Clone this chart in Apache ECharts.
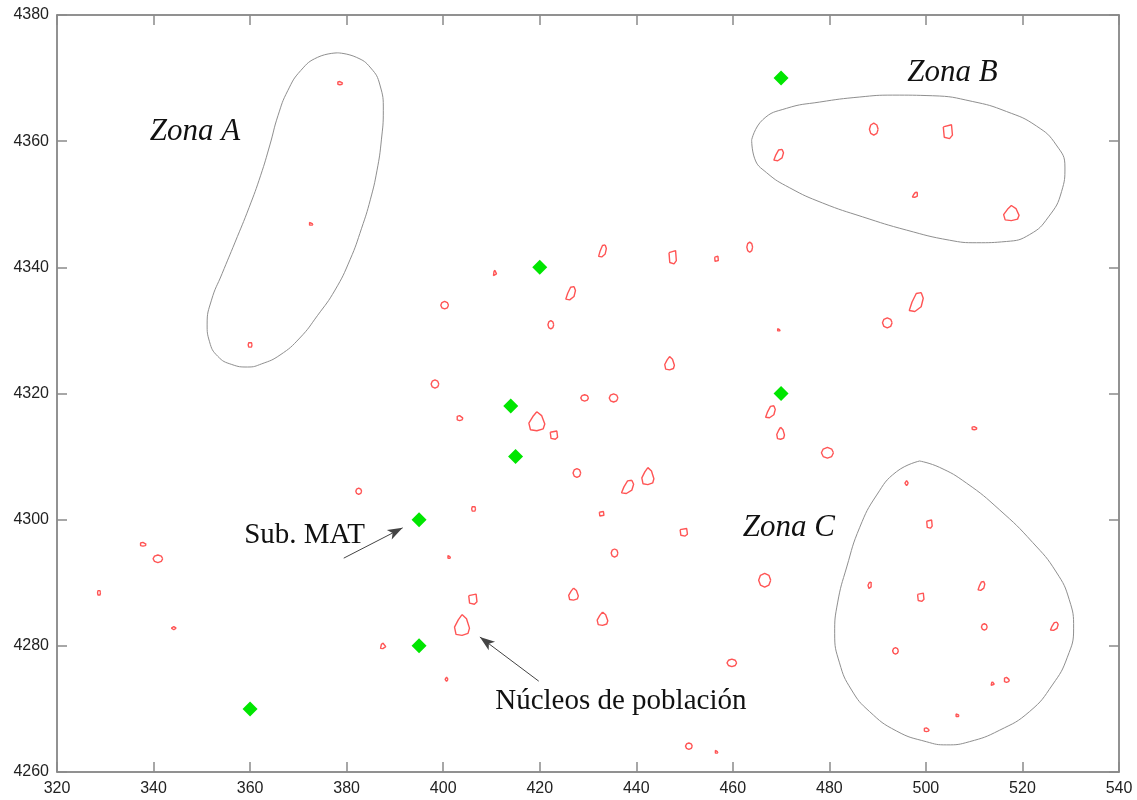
<!DOCTYPE html>
<html>
<head>
<meta charset="utf-8">
<title>Zonas y núcleos de población</title>
<script src="https://cdn.jsdelivr.net/npm/echarts@6/dist/echarts.min.js"></script>
<style>
    html, body { margin: 0; padding: 0; background: #fff; }
    #chart { width: 1137px; height: 800px; }
</style>
</head>
<body>
<div id="chart"></div>
<script>
//subestaciones MAT
var subMat = [[470, 4370], [420, 4340], [414, 4318], [415, 4310], [470, 4320], [395, 4300], [395, 4280], [360, 4270]];

//contornos de las zonas
var zonaA = [[378.2, 4374], [382, 4373.3], [385, 4371.6], [386.9, 4368.9], [387.6, 4364.9], [387.2, 4360.2], [386.3, 4355.4],
    [384.9, 4350.7], [383.1, 4346.2], [380.7, 4341.2], [377.6, 4336.4], [374, 4332.4], [370.3, 4328.8], [366.2, 4326.1],
    [362.4, 4324.7], [359.5, 4324.2], [356.2, 4324.6], [353.3, 4325.9], [351.6, 4328.2], [351.1, 4331], [352, 4334.8],
    [354.2, 4339], [356.9, 4344], [359.8, 4349.5], [362.2, 4354.6], [364.1, 4359.4], [365.8, 4364.1], [367.8, 4368],
    [370.5, 4371.2], [374, 4373.3], [378.2, 4374]];
var zonaB = [[463.9, 4360.2], [466.2, 4363.4], [471.1, 4365.2], [478, 4366.2], [486.3, 4367], [493.1, 4367.3], [501.4, 4367.2],
    [509.6, 4366.3], [516.7, 4364.7], [522.9, 4362.4], [527, 4359.4], [528.8, 4355.9], [528.1, 4352], [525.4, 4348],
    [521.5, 4345.2], [516.7, 4344.1], [510.5, 4343.9], [504.9, 4344.3], [496, 4345.9], [486.9, 4348], [478.6, 4350.2],
    [471.8, 4352.6], [467, 4355], [464.5, 4357.3], [463.9, 4360.2]];
var zonaC = [[498.7, 4309.3], [502.8, 4308.3], [508.4, 4305.8], [515.2, 4301.6], [522.1, 4296.4], [527, 4291.7], [529.7, 4287.3],
    [530.6, 4282.8], [529.3, 4278.2], [526.2, 4273.8], [521.5, 4269.6], [515.2, 4266.6], [509, 4264.8], [504.3, 4264.3],
    [500.1, 4264.8], [493.9, 4266.5], [488.3, 4269.6], [484.6, 4273], [482.1, 4277.3], [481.1, 4282], [481.7, 4286.8],
    [483.6, 4292.5], [486.3, 4298.8], [489.8, 4303.9], [493.9, 4307.6], [498.7, 4309.3]];

//formas de los nucleos, en unidades del radio
var REDONDA = [[1, 0], [.7, .7], [0, 1], [-.7, .7], [-1, 0], [-.7, -.7], [0, -1], [.7, -.7]];
var PICO = [[0, 1], [.6, .6], [1, -.3], [.8, -.8], [0, -1], [-.8, -.9], [-1, -.2], [-.5, .5]];
var INCLINADA = [[.7, 1], [1, .4], [.7, -.5], [-.2, -1], [-1, -.9], [-.6, 0], [0, .9]];
var CAJA = [[-.9, .7], [.8, 1], [1, -.5], [.4, -1], [-.7, -.8]];

//nucleos de poblacion: x, y, radio x, radio y, forma
var nucleos = [
    [378.6, 4369.2, .6, .25, REDONDA], [372.6, 4346.9, .4, .3, REDONDA], [360, 4327.7, .4, .5, REDONDA],
    [489.2, 4361.9, .9, .95, REDONDA], [504.5, 4361.5, 1, 1.1, CAJA], [469.5, 4357.8, 1, .9, INCLINADA],
    [497.8, 4351.5, .6, .4, INCLINADA], [517.7, 4348.6, 1.6, 1.2, PICO], [463.5, 4343.2, .6, .8, REDONDA],
    [498, 4334.5, 1.45, 1.5, INCLINADA], [492, 4331.2, 1, .8, REDONDA], [469.5, 4330.1, .3, .25, REDONDA],
    [433, 4342.6, .8, .95, INCLINADA], [447.5, 4341.6, .8, 1.05, CAJA], [456.6, 4341.3, .4, .45, CAJA],
    [410.7, 4339.1, .35, .45, PICO], [400.3, 4334, .8, .6, REDONDA], [426.4, 4335.9, 1, 1.05, INCLINADA],
    [422.3, 4330.9, .6, .65, REDONDA], [446.9, 4324.8, 1, 1.05, PICO], [398.3, 4321.5, .8, .65, REDONDA],
    [429.3, 4319.3, .8, .5, REDONDA], [435.3, 4319.3, .9, .65, REDONDA], [403.4, 4316.1, .7, .4, REDONDA],
    [419.4, 4315.6, 1.65, 1.5, PICO], [422.9, 4313.4, .8, .65, CAJA], [427.7, 4307.4, .8, .7, REDONDA],
    [438.2, 4305.2, 1.25, 1.05, INCLINADA], [442.4, 4306.9, 1.25, 1.35, PICO], [432.8, 4300.9, .5, .4, CAJA],
    [406.3, 4301.7, .4, .5, REDONDA], [382.5, 4304.5, .6, .5, REDONDA], [469.9, 4313.7, .8, .95, PICO],
    [467.8, 4317.1, 1, .95, INCLINADA], [479.6, 4310.6, 1.25, .85, REDONDA], [510, 4314.5, .6, .25, REDONDA],
    [496, 4305.8, .35, .4, REDONDA], [500.7, 4299.3, .6, .65, CAJA], [488.3, 4289.6, .5, .5, INCLINADA],
    [498.9, 4287.7, .7, .65, CAJA], [511.5, 4289.5, .7, .7, INCLINADA], [512.1, 4283, .6, .5, REDONDA],
    [526.6, 4283.1, .8, .65, INCLINADA], [493.7, 4279.2, .6, .5, REDONDA], [516.7, 4274.6, .6, .4, REDONDA],
    [513.8, 4274, .35, .3, PICO], [506.5, 4269, .35, .3, REDONDA], [500.1, 4266.7, .6, .3, REDONDA],
    [401.2, 4294.1, .3, .3, REDONDA], [406.1, 4287.4, .9, .8, CAJA], [403.9, 4283.3, 1.55, 1.65, PICO],
    [387.5, 4280, .6, .45, PICO], [400.7, 4274.7, .3, .35, REDONDA], [337.8, 4296.1, .7, .3, REDONDA],
    [340.9, 4293.8, 1, .6, REDONDA], [328.7, 4288.4, .3, .5, REDONDA], [344.2, 4282.8, .5, .25, REDONDA],
    [449.8, 4298, .8, .6, CAJA], [435.5, 4294.7, .7, .65, REDONDA], [427, 4288.2, 1, .95, PICO],
    [433, 4284.3, 1.1, 1.05, PICO], [466.6, 4290.4, 1.25, 1.1, REDONDA], [459.8, 4277.3, 1, .6, REDONDA],
    [450.9, 4264.1, .7, .5, REDONDA], [456.6, 4263.2, .3, .3, REDONDA]
];

//textos del grafico
var nombresZona = [[348.6, 4361.5, 'Zona A'], [505.5, 4370.8, 'Zona B'], [471.6, 4298.7, 'Zona C']];
var anotaciones = [[371.3, 4297.5, 'Sub. MAT'], [436.8, 4271.2, 'Núcleos de población']];

//flechas: origen y destino
var flechas = [[[379.4, 4293.9], [391.6, 4298.7]], [[419.8, 4274.4], [407.6, 4281.4]]];

//une los contornos en una sola linea, separados por huecos
function contornosNucleos() {
    var puntos = [];
    for (var i = 0; i < nucleos.length; i++) {
        var n = nucleos[i];
        var forma = n[4];
        for (var j = 0; j <= forma.length; j++) {
            var v = forma[j % forma.length];
            puntos.push([n[0] + v[0] * n[2], n[1] + v[1] * n[3]]);
        }
        puntos.push([NaN, NaN]);
    }
    return puntos;
}

function serieZona(datos) {
    return {
        type: 'line',
        data: datos,
        smooth: 0.5,
        showSymbol: false,
        silent: true,
        lineStyle: { color: '#8f8f8f', width: 1 }
    };
}

function serieTexto(datos, estilo) {
    return {
        type: 'scatter',
        data: datos,
        symbolSize: 0,
        silent: true,
        itemStyle: { opacity: 1 },
        label: {
            show: true,
            position: 'inside',
            formatter: function (p) { return p.data[2]; },
            fontFamily: 'Liberation Serif',
            fontStyle: estilo.fontStyle,
            fontSize: estilo.fontSize,
            color: '#111'
        }
    };
}

function ejeX(posicion, conTextos) {
    return {
        type: 'value',
        position: posicion,
        min: 320,
        max: 540,
        interval: 20,
        splitLine: { show: false },
        axisLine: { lineStyle: { color: '#6e6e6e', width: 1.5 } },
        axisTick: { inside: true, length: 10, lineStyle: { color: '#8a8a8a', width: 1.5 } },
        axisLabel: { show: conTextos, margin: 9, fontFamily: 'Liberation Sans', fontSize: 16, color: '#222' }
    };
}

function ejeY(posicion, conTextos) {
    return {
        type: 'value',
        position: posicion,
        min: 4260,
        max: 4380,
        interval: 20,
        splitLine: { show: false },
        axisLine: { lineStyle: { color: '#6e6e6e', width: 1.5 } },
        axisTick: { inside: true, length: 10, lineStyle: { color: '#8a8a8a', width: 1.5 } },
        axisLabel: {
            show: conTextos,
            margin: 8,
            padding: [3, 0, 0, 0],
            fontFamily: 'Liberation Sans',
            fontSize: 16,
            color: '#222',
            formatter: function (v) { return String(v); }
        }
    };
}

var lineasFlecha = [];
for (var k = 0; k < flechas.length; k++) {
    lineasFlecha.push([{ coord: flechas[k][0] }, { coord: flechas[k][1] }]);
}

var myChart = echarts.init(document.getElementById('chart'), null, { renderer: 'canvas' });
myChart.setOption({
    animation: false,
    backgroundColor: '#fff',
    grid: { left: 57, right: 18, top: 15, bottom: 28 },
    xAxis: [ejeX('bottom', true), ejeX('top', false)],
    yAxis: [ejeY('left', true), ejeY('right', false)],
    series: [
        serieZona(zonaA),
        serieZona(zonaB),
        serieZona(zonaC),
        {
            type: 'line',
            data: contornosNucleos(),
            showSymbol: false,
            connectNulls: false,
            silent: true,
            lineStyle: { color: '#ff5555', width: 1.4 }
        },
        {
            type: 'scatter',
            data: subMat,
            symbol: 'diamond',
            symbolSize: 15,
            silent: true,
            itemStyle: { color: '#00e600', opacity: 1 }
        },
        serieTexto(nombresZona, { fontStyle: 'italic', fontSize: 31 }),
        serieTexto(anotaciones, { fontStyle: 'normal', fontSize: 29 }),
        {
            type: 'line',
            data: [],
            silent: true,
            markLine: {
                silent: true,
                animation: false,
                symbol: ['none', 'arrow'],
                symbolSize: [8, 15],
                label: { show: false },
                lineStyle: { color: '#444', width: 1, type: 'solid', opacity: 1 },
                data: lineasFlecha
            }
        }
    ]
});
</script>
</body>
</html>
